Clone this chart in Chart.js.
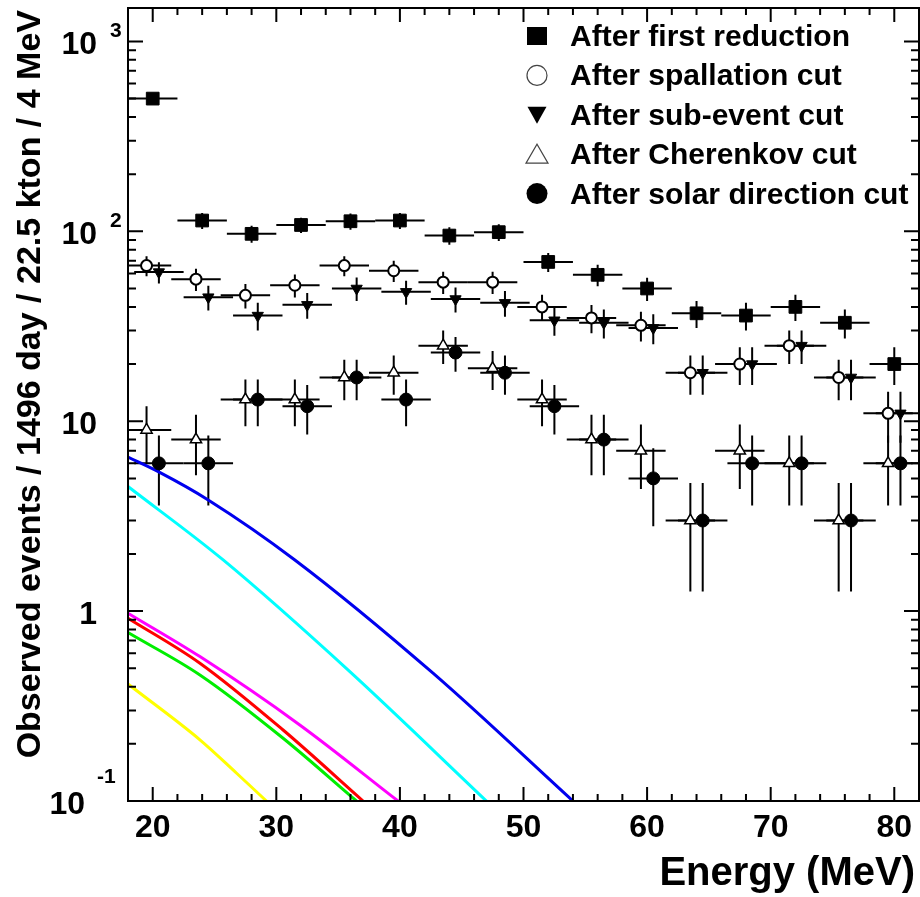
<!DOCTYPE html>
<html>
<head>
<meta charset="utf-8">
<script src="https://cdn.jsdelivr.net/npm/chart.js@4.4.1/dist/chart.umd.min.js"></script>
<style>
  html, body { margin: 0; padding: 0; background: #fff; }
  canvas { display: block; }
</style>
</head>
<body>
<canvas id="spectrum" width="920" height="897"></canvas>
<script>
// bin centres (MeV), 4 MeV bins
var binX = [20, 24, 28, 32, 36, 40, 44, 48, 52, 56, 60, 64, 68, 72, 76, 80];
var binHalf = 2;

var firstRed  = [500, 114, 97, 108, 113, 114, 95, 99, 69, 59, 50, 37, 36, 40, 33, 20];
var firstErr  = [22, 11, 10, 10, 11, 11, 10, 10, 8, 7.7, 7, 6, 6, 6.3, 5.7, 4.5];
var spall     = [66, 56, 46, 52, 66, 62, 54, 54, 40, 35, 32, 18, 20, 25, 17, 11];
var spallErr  = [8, 7.5, 6.8, 7.2, 8, 7.9, 7.3, 7.3, 6.3, 5.9, 5.7, 4.2, 4.5, 5, 4.1, 3.3];
var subEv     = [61, 45, 36, 41, 50, 48, 44, 42, 34, 33, 31, 18, 20, 25, 17, 11];
var subEvErr  = [7.8, 6.7, 6, 6.4, 7.1, 6.9, 6.6, 6.5, 5.8, 5.7, 5.6, 4.2, 4.5, 5, 4.1, 3.3];
var cheren    = [9, 8, 13, 13, 17, 18, 25, 19, 13, 8, 7, 3, 7, 6, 3, 6];
var cherenErr = [3, 2.8, 3.6, 3.6, 4.1, 4.2, 5, 4.4, 3.6, 2.8, 2.6, 1.73, 2.6, 2.4, 1.73, 2.4];
var solar     = [6, 6, 13, 12, 17, 13, 23, 18, 12, 8, 5, 3, 6, 6, 3, 6];
var solarErr  = [2.4, 2.4, 3.6, 3.5, 4.1, 3.6, 4.8, 4.2, 3.5, 2.8, 2.2, 1.73, 2.4, 2.4, 1.73, 2.4];

var seriesNames = ["After first reduction", "After spallation cut", "After sub-event cut",
                   "After Cherenkov cut", "After solar direction cut"];

// expected background curves
var blueX = [18, 20.6, 24.49, 31.5, 42.68, 54.0];
var blueY = [6.47, 5.36, 3.85, 1.86, 0.471, 0.1];
var cyanX = [18, 25.7, 35.95, 47.0];
var cyanY = [4.53, 1.86, 0.48, 0.1];
var magX  = [18, 23.82, 31.9, 39.85];
var magY  = [0.975, 0.576, 0.2515, 0.1];
var redX  = [18, 23.82, 30.55, 37.02];
var redY  = [0.918, 0.532, 0.2365, 0.1];
var grnX  = [18, 23.82, 30.55, 36.49];
var grnY  = [0.771, 0.461, 0.214, 0.1];
var yelX  = [18, 23.82, 26.79, 29.2];
var yelY  = [0.413, 0.21, 0.14, 0.1];

var xTicks = [20, 30, 40, 50, 60, 70, 80];
var yTicks = [0.1, 1, 10, 100, 1000];
var yTickBase = ["10", "1", "10", "10", "10"];
var yTickExp  = ["-1", "", "", "2", "3"];

var FONT = '"Liberation Sans", Arial, Helvetica, sans-serif';

function pts(xs, ys, shift) {
  return xs.map(function (x, i) { return { x: x + (shift || 0), y: ys[i] }; });
}

function curve(xs, ys, color) {
  return {
    data: pts(xs, ys), showLine: true, pointRadius: 0, borderColor: color,
    borderWidth: 3, cubicInterpolationMode: 'monotone', fill: false
  };
}

// little marker painter for the legend box
function marker(ctx, kind, x, y) {
  ctx.save();
  ctx.fillStyle = '#000';
  ctx.strokeStyle = '#444';
  ctx.lineWidth = 1.2;
  ctx.beginPath();
  if (kind === 'square') {
    ctx.fillRect(x - 10, y - 9, 20, 18);
  } else if (kind === 'ocircle') {
    ctx.arc(x, y, 10, 0, Math.PI * 2);
    ctx.stroke();
  } else if (kind === 'tdown') {
    ctx.moveTo(x - 9.5, y - 8); ctx.lineTo(x + 9.5, y - 8); ctx.lineTo(x, y + 9);
    ctx.closePath(); ctx.fill();
  } else if (kind === 'otri') {
    ctx.moveTo(x - 11, y + 9); ctx.lineTo(x + 11, y + 9); ctx.lineTo(x, y - 10);
    ctx.closePath(); ctx.stroke();
  } else {
    ctx.arc(x, y, 10.5, 0, Math.PI * 2);
    ctx.fill();
  }
  ctx.restore();
}

var errorBars = {
  id: 'errorBars',
  beforeDatasetsDraw: function (chart) {
    var ctx = chart.ctx, xs = chart.scales.x, ys = chart.scales.y, a = chart.chartArea;
    ctx.save();
    ctx.beginPath();
    ctx.rect(a.left, a.top, a.right - a.left, a.bottom - a.top);
    ctx.clip();
    ctx.strokeStyle = '#000';
    ctx.lineWidth = 2;
    chart.data.datasets.forEach(function (ds) {
      if (!ds.errY) return;
      ds.data.forEach(function (p, i) {
        var px = xs.getPixelForValue(p.x), py = ys.getPixelForValue(p.y);
        var lo = Math.max(p.y - ds.errY[i], 0.1);
        ctx.beginPath();
        ctx.moveTo(xs.getPixelForValue(p.x - binHalf), py);
        ctx.lineTo(xs.getPixelForValue(p.x + binHalf), py);
        ctx.moveTo(px, ys.getPixelForValue(p.y + ds.errY[i]));
        ctx.lineTo(px, ys.getPixelForValue(lo));
        ctx.stroke();
      });
    });
    ctx.restore();
  }
};

var frameAndLabels = {
  id: 'frameAndLabels',
  afterDraw: function (chart) {
    var ctx = chart.ctx, xs = chart.scales.x, ys = chart.scales.y, a = chart.chartArea;
    ctx.save();
    ctx.strokeStyle = '#000';
    ctx.lineWidth = 2;
    ctx.strokeRect(a.left, a.top, a.right - a.left, a.bottom - a.top);

    // x ticks, bottom and top
    ctx.beginPath();
    for (var v = 18; v <= 82; v += 2) {
      var len = xTicks.indexOf(v) >= 0 ? 14 : 7;
      var px = xs.getPixelForValue(v);
      ctx.moveTo(px, a.bottom); ctx.lineTo(px, a.bottom - len);
      ctx.moveTo(px, a.top); ctx.lineTo(px, a.top + len);
    }
    // y ticks, left and right
    yTicks.forEach(function (d) {
      for (var m = 1; m <= 9; m++) {
        var val = d * m;
        if (val > ys.max) break;
        var py = ys.getPixelForValue(val);
        var l = m === 1 ? 15 : 8;
        ctx.moveTo(a.left, py); ctx.lineTo(a.left + l, py);
        ctx.moveTo(a.right, py); ctx.lineTo(a.right - l, py);
      }
    });
    ctx.stroke();

    ctx.fillStyle = '#000';
    ctx.textBaseline = 'alphabetic';

    // x tick labels
    ctx.font = 'bold 32px ' + FONT;
    ctx.textAlign = 'center';
    xTicks.forEach(function (t) {
      ctx.fillText(String(t), xs.getPixelForValue(t), 837);
    });

    // y tick labels, 10 with superscript exponent
    yTicks.forEach(function (t, i) {
      var py = ys.getPixelForValue(t);
      var exp = yTickExp[i];
      var neg = exp.charAt(0) === '-';
      ctx.font = 'bold 32px ' + FONT;
      ctx.textAlign = 'right';
      ctx.fillText(yTickBase[i], exp && neg ? 85 : 97, py + 13);
      if (exp) {
        ctx.font = 'bold 21px ' + FONT;
        ctx.textAlign = 'left';
        ctx.fillText(exp, neg ? 97 : 110, neg ? py - 18 : py - 4);
      }
    });

    // axis titles
    ctx.font = 'bold 40px ' + FONT;
    ctx.textAlign = 'right';
    ctx.fillText('Energy (MeV)', 915, 885);

    ctx.save();
    ctx.translate(40, 10);
    ctx.rotate(-Math.PI / 2);
    ctx.font = 'bold 34px ' + FONT;
    ctx.textAlign = 'right';
    ctx.fillText('Observed events / 1496 day / 22.5 kton / 4 MeV', 0, 0);
    ctx.restore();

    // legend
    var kinds = ['square', 'ocircle', 'tdown', 'otri', 'dot'];
    ctx.font = 'bold 30px ' + FONT;
    ctx.textAlign = 'left';
    seriesNames.forEach(function (name, i) {
      var ry = 36 + i * 39.4;
      marker(ctx, kinds[i], 537, ry);
      ctx.fillText(name, 570, ry + 10);
    });
    ctx.restore();
  }
};

new Chart(document.getElementById('spectrum'), {
  type: 'scatter',
  data: {
    datasets: [
      { data: pts(binX, firstRed, 0), errY: firstErr, pointStyle: 'rect', pointRadius: 9,
        backgroundColor: '#000', borderColor: '#000', borderWidth: 1 },
      { data: pts(binX, spall, -0.5), errY: spallErr, pointStyle: 'circle', pointRadius: 5.5,
        backgroundColor: '#fff', borderColor: '#000', borderWidth: 2 },
      { data: pts(binX, subEv, 0.5), errY: subEvErr, pointStyle: 'triangle', pointRotation: 180,
        pointRadius: 6.5, backgroundColor: '#000', borderColor: '#000', borderWidth: 1 },
      { data: pts(binX, cheren, -0.5), errY: cherenErr, pointStyle: 'triangle', pointRadius: 6.5,
        backgroundColor: '#fff', borderColor: '#000', borderWidth: 1.5 },
      { data: pts(binX, solar, 0.5), errY: solarErr, pointStyle: 'circle', pointRadius: 6.5,
        backgroundColor: '#000', borderColor: '#000', borderWidth: 1 },
      curve(blueX, blueY, '#0000ee'),
      curve(cyanX, cyanY, '#00ffff'),
      curve(magX, magY, '#ff00ff'),
      curve(redX, redY, '#ff0000'),
      curve(grnX, grnY, '#00ee00'),
      curve(yelX, yelY, '#ffff00')
    ]
  },
  options: {
    responsive: false,
    animation: false,
    events: [],
    layout: { autoPadding: false, padding: { left: 128, top: 8, right: 1, bottom: 96 } },
    plugins: { legend: { display: false }, tooltip: { enabled: false } },
    scales: {
      x: { type: 'linear', min: 18, max: 82, display: false },
      y: { type: 'logarithmic', min: 0.1, max: 1500, display: false }
    }
  },
  plugins: [errorBars, frameAndLabels]
});
</script>
</body>
</html>
